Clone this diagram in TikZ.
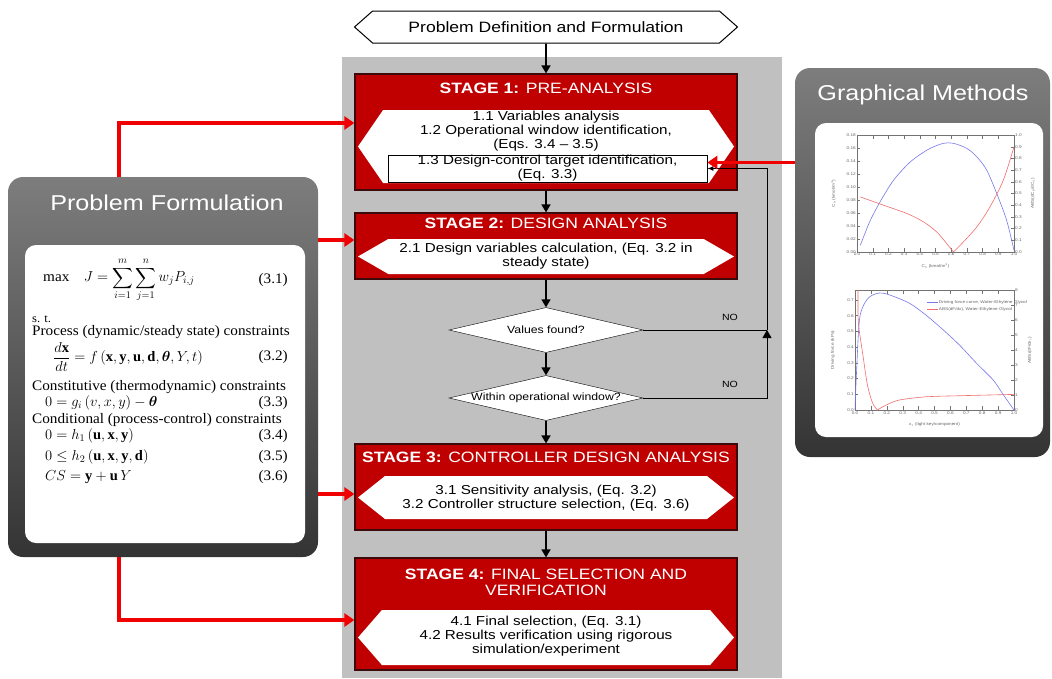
\RequirePackage{fix-cm}
\documentclass[tikz,border=0pt]{standalone}
\usepackage{amsmath,bm}
\usepackage{fontspec}
\setmainfont{Liberation Sans}[FakeStretch=1.17]
\newfontfamily\eqfont{Liberation Serif}[FakeStretch=1.05]
\setmathrm{Liberation Serif}
\usetikzlibrary{shapes.geometric,shapes.symbols,arrows.meta}

\definecolor{stagered}{RGB}{192,0,0}
\definecolor{stageedge}{RGB}{60,10,10}
\definecolor{flowred}{RGB}{240,0,0}
\definecolor{bggray}{RGB}{192,192,192}
\definecolor{paneltop}{RGB}{125,125,125}
\definecolor{panelbottom}{RGB}{52,52,52}
\definecolor{curveblue}{RGB}{120,120,235}
\definecolor{curvered}{RGB}{240,110,110}

\tikzset{
  stage/.style={draw=stageedge, line width=1.2pt, fill=stagered, minimum width=382pt, inner sep=0pt},
  stagetitle/.style={text=white, font=\fontsize{15}{15.5}\selectfont, align=center},
  hexa/.style={shape=signal, signal to=west and east, fill=white, inner sep=0pt, minimum width=376pt},
  body/.style={font=\fontsize{13}{14}\selectfont, align=center},
  decision/.style={diamond, aspect=4.3, draw, fill=white, minimum width=194pt, minimum height=45pt,
    inner sep=0pt, font=\fontsize{10.5}{11}\selectfont},
  flow/.style={-{Triangle[length=8pt,width=9pt]}, line width=1.6pt},
  feed/.style={-{Triangle[length=10pt,width=13pt]}, line width=3.5pt, flowred},
  panel/.style={rounded corners=15pt, top color=paneltop, bottom color=panelbottom},
  sheet/.style={rounded corners=11pt, fill=white},
  paneltitle/.style={text=white, font=\fontsize{21.5}{23}\selectfont},
  eqline/.style={font=\eqfont\fontsize{14.5}{16}\selectfont, inner sep=0pt},
  axisline/.style={draw=black!55, line width=0.4pt},
  ticklab/.style={font=\fontsize{4}{4}\selectfont, text=black!60, inner sep=1pt},
}

\begin{document}
\begin{tikzpicture}[x=1pt,y=-1pt]
\useasboundingbox (0,0) rectangle (1052,678);

% grey band behind the stages
\fill[bggray] (342,57) rectangle (782,678);

\node[shape=signal, signal to=west and east, signal pointer angle=83, draw, line width=1pt, fill=white,
  minimum width=383pt, minimum height=32pt, inner sep=0pt, font=\fontsize{15}{16}\selectfont]
  (start) at (546,27) {Problem Definition and Formulation};

% stage 1
\node[stage, minimum height=116pt] (s1) at (546,132) {};
\node[stagetitle] at (546,88) {\textbf{STAGE 1:} PRE-ANALYSIS};
\node[hexa, signal pointer angle=111, minimum height=73pt] (h1) at (546,146.5) {};
\node[body] at (546,131) {1.1 Variables analysis\\1.2 Operational window identification,\\(Eqs. 3.4 -- 3.5)};
\node[body, draw, line width=0.7pt, fill=white, minimum width=319pt, minimum height=27pt, inner sep=0pt]
  (t13) at (547.5,168.5) {1.3 Design-control target identification,\\(Eq. 3.3)};

% stage 2
\node[stage, minimum height=66pt] (s2) at (546,246) {};
\node[stagetitle] at (546,223) {\textbf{STAGE 2:} DESIGN ANALYSIS};
\node[hexa, signal pointer angle=60, minimum height=35pt] (h2) at (546,256.5) {};
\node[body] at (546,256) {2.1 Design variables calculation, (Eq. 3.2 in\\steady state)};

% checks
\node[decision] (d1) at (546,330) {Values found?};
\node[decision] (d2) at (546,398) {Within operational window?};
\node[font=\fontsize{9}{10}\selectfont] at (730,317) {NO};
\node[font=\fontsize{9}{10}\selectfont] at (730,384) {NO};

% stage 3
\node[stage, minimum height=86pt] (s3) at (546,487) {};
\node[stagetitle] at (546,457) {\textbf{STAGE 3:} CONTROLLER DESIGN ANALYSIS};
\node[hexa, signal pointer angle=77, minimum height=43pt] (h3) at (546,497.5) {};
\node[body] at (546,498) {3.1 Sensitivity analysis, (Eq. 3.2)\\3.2 Controller structure selection, (Eq. 3.6)};

% stage 4
\node[stage, minimum height=112pt] (s4) at (546,614) {};
\node[stagetitle] at (546,582.5) {\textbf{STAGE 4:} FINAL SELECTION AND\\VERIFICATION};
\node[hexa, signal pointer angle=98, minimum height=55pt] (h4) at (546,637.5) {};
\node[body] at (546,636.5) {4.1 Final selection, (Eq. 3.1)\\4.2 Results verification using rigorous\\simulation/experiment};

% main flow
\draw[flow] (start) -- (s1);
\draw[flow] (s1) -- (s2);
\draw[flow] (s2) -- (d1);
\draw[flow] (d1) -- (d2);
\draw[flow] (d2) -- (s3);
\draw[flow] (s3) -- (s4);

% NO branches back to 1.3
\coordinate (jn) at (767,330);
\draw[line width=1pt] (d1.east) -- (jn);
\draw[line width=1pt, -{Triangle[length=8pt,width=9pt]}] (d2.east) -| (jn);
\draw[line width=1pt, -{Latex[length=6pt,width=5pt]}] (jn) |- (t13.east);

% problem formulation panel
\node[panel, minimum width=310pt, minimum height=380pt] (pform) at (163,367) {};
\node[paneltitle] at (167,203) {Problem Formulation};
\node[sheet, minimum width=280pt, minimum height=298pt] (pfsheet) at (165,394) {};

\node[eqline, anchor=west] at (43,280) {max\quad $J=\displaystyle\sum_{i=1}^{m}\sum_{j=1}^{n} w_j P_{i,j}$};
\node[eqline, anchor=east] at (288,280) {(3.1)};
\node[eqline, anchor=west, font=\eqfont\fontsize{12}{13}\selectfont] at (32,319) {s. t.};
\node[eqline, anchor=west] at (32,332) {Process (dynamic/steady state) constraints};
\node[eqline, anchor=west] at (53,357) {$\dfrac{d\mathbf{x}}{dt}=f\left(\mathbf{x},\mathbf{y},\mathbf{u},\mathbf{d},\bm{\theta},Y,t\right)$};
\node[eqline, anchor=east] at (288,357) {(3.2)};
\node[eqline, anchor=west] at (32,387) {Constitutive (thermodynamic) constraints};
\node[eqline, anchor=west] at (45,403) {$0=g_i\left(v,x,y\right)-\bm{\theta}$};
\node[eqline, anchor=east] at (288,403) {(3.3)};
\node[eqline, anchor=west] at (32,420) {Conditional (process-control) constraints};
\node[eqline, anchor=west] at (45,436) {$0=h_1\left(\mathbf{u},\mathbf{x},\mathbf{y}\right)$};
\node[eqline, anchor=east] at (288,436) {(3.4)};
\node[eqline, anchor=west] at (45,457) {$0\le h_2\left(\mathbf{u},\mathbf{x},\mathbf{y},\mathbf{d}\right)$};
\node[eqline, anchor=east] at (288,457) {(3.5)};
\node[eqline, anchor=west] at (45,477) {$CS=\mathbf{y}+\mathbf{u}\,Y$};
\node[eqline, anchor=east] at (288,477) {(3.6)};

% graphical methods panel
\node[panel, minimum width=255pt, minimum height=389pt] (gmeth) at (922.5,262.5) {};
\node[paneltitle] at (923,95) {Graphical Methods};
\node[sheet, minimum width=228pt, minimum height=314pt] (gmsheet) at (929,280) {};

% upper plot
\begin{scope}[shift={(857,252)}, x=157pt, y=117pt]
  \draw[axisline] (0,0) rectangle (1,1);
  \foreach \k/\l in {0/0.0,1/0.1,2/0.2,3/0.3,4/0.4,5/0.5,6/0.6,7/0.7,8/0.8,9/0.9,10/1.0} {
    \draw[axisline] (\k/10,0) -- (\k/10,0.03);
    \draw[axisline] (\k/10,1) -- (\k/10,0.97);
    \node[ticklab, below] at (\k/10,0) {\l};
    \draw[axisline] (1,\k/10) -- (0.98,\k/10);
    \node[ticklab, right] at (1,\k/10) {\l};
  }
  \foreach \k/\l in {0/0.00,1/0.02,2/0.04,3/0.06,4/0.08,5/0.10,6/0.12,7/0.14,8/0.16,9/0.18} {
    \draw[axisline] (0,\k/9) -- (0.02,\k/9);
    \node[ticklab, left] at (0,\k/9) {\l};
  }
  \node[ticklab] at (0.5,-0.12) {C$_\mathrm{A}$ (kmol/m$^3$)};
  \node[ticklab, rotate=90] at (-0.15,0.5) {C$_\mathrm{B}$ (kmol/m$^3$)};
  \node[ticklab, rotate=90] at (1.12,0.5) {ABS(dC$_\mathrm{B}$/dC$_\mathrm{A}$)};
  \draw[curveblue, line width=0.6pt] plot[smooth] coordinates {(0.021,0.057) (0.085,0.271) (0.159,0.457)
    (0.233,0.614) (0.318,0.743) (0.381,0.814) (0.466,0.886) (0.551,0.929) (0.614,0.929) (0.699,0.886)
    (0.763,0.814) (0.826,0.7) (0.89,0.5) (0.953,0.271) (1,0.014)};
  \draw[curvered, line width=0.6pt] plot[smooth] coordinates {(0.021,0.471) (0.169,0.4) (0.318,0.329)
    (0.424,0.257) (0.508,0.171) (0.572,0.071) (0.614,0)};
  \draw[curvered, line width=0.6pt] plot[smooth] coordinates {(0.614,0) (0.657,0.057) (0.763,0.214)
    (0.847,0.386) (0.932,0.614) (1,0.9)};
\end{scope}

% lower plot
\begin{scope}[shift={(855,410)}, x=159pt, y=120pt]
  \draw[axisline] (0,0) rectangle (1,1);
  \foreach \k/\l in {0/0.0,1/0.1,2/0.2,3/0.3,4/0.4,5/0.5,6/0.6,7/0.7,8/0.8,9/0.9,10/1.0} {
    \draw[axisline] (\k/10,0) -- (\k/10,0.03);
    \draw[axisline] (\k/10,1) -- (\k/10,0.97);
    \node[ticklab, below] at (\k/10,0) {\l};
  }
  \foreach \k/\l in {0/0.0,1/0.1,2/0.2,3/0.3,4/0.4,5/0.5,6/0.6,7/0.7} {
    \draw[axisline] (0,\k*0.131) -- (0.02,\k*0.131);
    \node[ticklab, left] at (0,\k*0.131) {\l};
  }
  \foreach \k in {0,...,8} {
    \draw[axisline] (1,\k/8) -- (0.98,\k/8);
    \node[ticklab, right] at (1,\k/8) {\k};
  }
  \node[ticklab] at (0.5,-0.12) {x$_1$ (light key/component)};
  \node[ticklab, rotate=90] at (-0.14,0.5) {Driving force (kPa)};
  \node[ticklab, rotate=90] at (1.1,0.5) {ABS(dF/dx$_1$)};
  \draw[curveblue, line width=0.4pt] (0.45,0.9) -- (0.52,0.9) node[ticklab, right] {Driving force curve, Water-Ethylene Glycol};
  \draw[curvered, line width=0.4pt] (0.45,0.84) -- (0.52,0.84) node[ticklab, right] {ABS(dF/dx), Water-Ethylene Glycol};
  \draw[curvered, line width=0.6pt] plot[smooth] coordinates {(0.019,1.0) (0.019,0.8) (0.025,0.68)
    (0.046,0.49) (0.078,0.21) (0.11,0.06) (0.141,0)};
  \draw[curvered, line width=0.6pt] plot[smooth] coordinates {(0.141,0) (0.194,0.04) (0.278,0.083)
    (0.447,0.11) (0.658,0.119) (1,0.13)};
  \draw[curveblue, line width=0.6pt] plot[smooth] coordinates {(0,0) (0.006,0.21) (0.025,0.71) (0.046,0.85)
    (0.089,0.94) (0.152,0.975) (0.215,0.96) (0.342,0.89) (0.447,0.79) (0.553,0.67) (0.658,0.54)
    (0.764,0.39) (0.869,0.25) (0.926,0.14) (1,0)};
\end{scope}

% red feeds into the stages
\coordinate (s2in) at ([yshift=6pt]s2.west);
\coordinate (s3in) at ([yshift=-7pt]s3.west);
\coordinate (s4in) at ([yshift=-6pt]s4.west);
\coordinate (in13) at ([yshift=6pt]t13.east);
\draw[feed] ([xshift=-44pt]pform.north) |- ([yshift=9pt]s1.west);
\draw[feed] (pform.east |- s2in) -- (s2in);
\draw[feed] (pform.east |- s3in) -- (s3in);
\draw[feed] ([xshift=-44pt]pform.south) |- (s4in);
\draw[feed] (gmeth.west |- in13) -- (in13);

\end{tikzpicture}
\end{document}
